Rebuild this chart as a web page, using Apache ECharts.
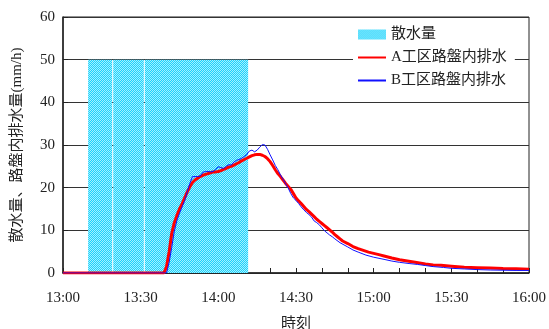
<!DOCTYPE html>
<html>
<head>
<meta charset="utf-8">
<script src="https://cdn.jsdelivr.net/npm/echarts@6/dist/echarts.min.js"></script>
<style>
html,body{margin:0;padding:0;background:#fff;}
#c{width:549px;height:329px;}
</style>
</head>
<body>
<div id="c"></div>
<script>
// Tick labels (minutes from 13:00 -> label)
const xTickLabels = ['13:00','13:30','14:00','14:30','15:00','15:30','16:00'];
const yTickLabels = ['0','10','20','30','40','50','60'];

// Spray (散水量): [start minute, end minute, value mm/h]
const sprayPeriods = [
  [9.7, 19.4, 50],
  [19.4, 31.6, 50],
  [31.6, 71.9, 50]
];

// A工区路盤内排水: [minute, mm/h]
const drainA = [
  [0,0],[39,0],[40,1.5],[41,5],[42,9.3],[43,11.8],[44,13.5],[45,15],[46,16.2],[47,17.6],
  [48,19],[49,20.2],[50,21.2],[51,21.8],[52,22.2],[53,22.6],[54,22.9],[55,23.1],[56,23.3],
  [57,23.5],[58,23.7],[59,23.7],[60,23.8],[61,24],[62,24.3],[63,24.5],[64,24.8],[65,25],
  [66,25.3],[67,25.6],[68,25.9],[69,26.3],[70,26.6],[71,26.9],[72,27.2],[73,27.5],[74,27.7],
  [75,27.8],[76,27.8],[77,27.6],[78,27.3],[79,26.8],[80,26.1],[81,25.2],[82,24.2],[83,23.3],
  [84,22.6],[85,21.8],[86,21],[87,20.3],[88,19.6],[89,18.6],[90,17.6],[91,16.9],[92,16.3],
  [93,15.6],[94,14.9],[95,14.4],[96,13.8],[97,13.2],[98,12.6],[99,12.1],[100,11.6],[101,11.1],
  [102,10.6],[103,10.1],[104,9.6],[105,9],[106,8.5],[107,8],[108,7.5],[110,6.9],[112,6.2],
  [114,5.7],[116,5.3],[118,4.9],[120,4.6],[122,4.3],[124,4],[127,3.5],[130,3.1],[133,2.8],
  [136,2.5],[140,2.1],[143,1.9],[146,1.8],[150,1.6],[155,1.35],[160,1.25],[165,1.15],
  [170,1.05],[175,1.0],[180,0.9]
];

// B工区路盤内排水: [minute, mm/h]
const drainB = [
  [0,0],[40,0],[41,2.5],[42,6],[43,9.8],[44,12.3],[45,14],[46,15.5],[47,17],[48,19],
  [49,21],[50,22.6],[51,22.6],[52,22.6],[53,22.7],[54,23.6],[55,23.8],[56,23.8],[57,23.7],
  [58,23.8],[59,24.3],[60,24.9],[61,24.7],[62,24.5],[63,25],[64,25.4],[65,25.3],[66,26],
  [67,26.4],[68,26.6],[69,26.9],[70,27.3],[71,27.8],[72,28.6],[73,28.8],[74,28.4],[75,28.8],
  [76,29.5],[77,30.1],[77.5,30.4],[78,30],[79,29],[80,27.7],[81,26.5],[82,25.2],[83,24.2],
  [84,23],[85,22],[86,20.9],[87,19.9],[88,18.6],[89,17.6],[90,17],[91,16.3],[92,15.5],
  [93,14.8],[94,14.2],[95,13.7],[96,13.1],[97,12.2],[98,11.8],[99,11.3],[100,10.6],[101,9.9],
  [102,9.4],[103,8.9],[104,8.5],[105,8],[107,7.1],[110,6.1],[112,5.4],[114,4.9],[117,4.2],
  [120,3.7],[124,3.2],[127,2.8],[130,2.5],[134,2.2],[137,2],[140,1.75],[143,1.5],[147,1.3],
  [150,1.1],[155,0.95],[160,0.8],[165,0.7],[170,0.65],[175,0.6],[180,0.6]
];

// checker pattern for spray area
const pc = document.createElement('canvas');
pc.width = 2; pc.height = 2;
const g = pc.getContext('2d');
g.fillStyle = '#1ed2fc'; g.fillRect(0,0,2,2);
g.fillStyle = '#a6f0ff'; g.fillRect(0,0,1,1); g.fillRect(1,1,1,1);
const sprayPattern = {image: pc, repeat: 'repeat'};

const FONT = '"Liberation Serif","Noto Sans CJK JP",serif';
const chart = echarts.init(document.getElementById('c'), null, {renderer:'canvas'});
chart.setOption({
  animation: false,
  backgroundColor: '#fff',
  textStyle: {fontFamily: FONT, color: '#222'},
  grid: {left: 63, right: 20, top: 17, bottom: 56, show: true, borderColor: '#222', borderWidth: 1,
    backgroundColor: 'transparent', containLabel: false, outerBoundsMode: 'none'},
  legend: {
    orient: 'vertical', left: 353, top: 24,
    backgroundColor: '#fff', padding: [3, 8, 3, 4],
    itemWidth: 28, itemHeight: 10, itemGap: 8,
    textStyle: {fontFamily: FONT, fontSize: 15, color: '#222'},
    data: [
      {name: '散水量', icon: 'rect'},
      {name: 'A工区路盤内排水', itemStyle: {opacity: 0, color: 'rgba(0,0,0,0)'}, lineStyle: {width: 2}},
      {name: 'B工区路盤内排水', itemStyle: {opacity: 0, color: 'rgba(0,0,0,0)'}}
    ]
  },
  xAxis: {
    type: 'value', min: 0, max: 180, interval: 30,
    name: '時刻', nameLocation: 'middle', nameGap: 44,
    nameTextStyle: {fontFamily: FONT, fontSize: 15, color: '#222'},
    axisLine: {lineStyle: {color: '#222', width: 1.5}},
    axisTick: {show: true, inside: true, length: 5, lineStyle: {color: '#222'}},
    minorTick: {show: true, splitNumber: 3, length: 5, lineStyle: {color: '#222'}},
    splitLine: {show: false},
    axisLabel: {margin: 18, fontSize: 15, color: '#222', fontFamily: FONT,
      formatter: v => xTickLabels[Math.round(v / 30)]}
  },
  yAxis: {
    type: 'value', min: 0, max: 60, interval: 10,
    name: '散水量、路盤内排水量(mm/h)', nameLocation: 'middle', nameGap: 38,
    nameTextStyle: {fontFamily: FONT, fontSize: 15, color: '#222'},
    axisLine: {show: true, lineStyle: {color: '#222', width: 1.5}},
    axisTick: {show: true, inside: true, length: 5, lineStyle: {color: '#222'}},
    splitLine: {show: true, lineStyle: {color: '#333', width: 1}},
    axisLabel: {margin: 8, fontSize: 15, color: '#222', fontFamily: FONT,
      formatter: v => yTickLabels[Math.round(v / 10)]}
  },
  series: [
    {
      name: '散水量', type: 'custom',
      itemStyle: {color: sprayPattern},
      encode: {x: [0, 1], y: 2},
      data: sprayPeriods,
      renderItem: function (params, api) {
        const s = api.coord([api.value(0), api.value(2)]);
        const e = api.coord([api.value(1), 0]);
        return {
          type: 'rect',
          shape: {x: s[0], y: s[1], width: e[0] - s[0] - 1, height: e[1] - s[1]},
          style: {fill: sprayPattern}
        };
      }
    },
    {
      name: 'A工区路盤内排水', type: 'line', data: drainA,
      showSymbol: false, symbol: 'none',
      lineStyle: {color: '#ff0000', width: 3}, itemStyle: {color: '#ff0000'}
    },
    {
      name: 'B工区路盤内排水', type: 'line', data: drainB,
      showSymbol: false, symbol: 'none',
      lineStyle: {color: '#1010ff', width: 1}, itemStyle: {color: '#1010ff'}
    }
  ]
});
</script>
</body>
</html>
